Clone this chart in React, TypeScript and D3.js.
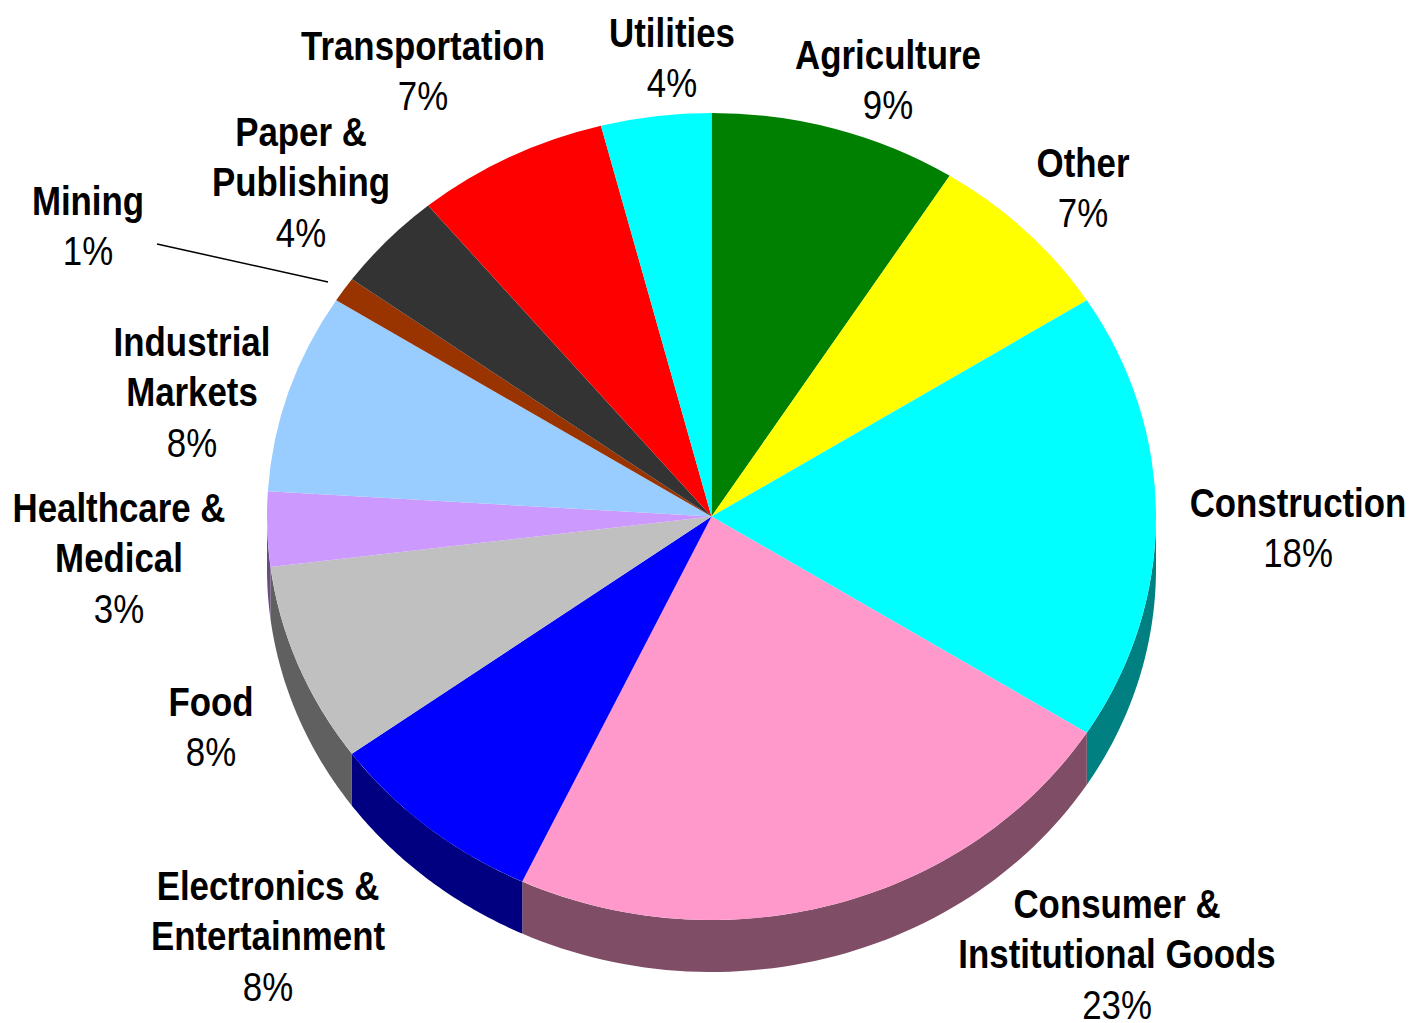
import React, { useRef, useEffect } from 'react'
import * as d3 from 'd3'

const categories = [
  'Agriculture', 'Other', 'Construction', 'Consumer & Institutional Goods',
  'Electronics & Entertainment', 'Food', 'Healthcare & Medical', 'Industrial Markets',
  'Mining', 'Paper & Publishing', 'Transportation', 'Utilities',
]
const values = [9, 7, 18, 23, 8, 8, 3, 8, 1, 4, 7, 4]
const colors = [
  '#008000', '#FFFF00', '#00FFFF', '#FF99CC', '#0000FF', '#C0C0C0',
  '#CC99FF', '#99CCFF', '#993300', '#333333', '#FF0000', '#00FFFF',
]
const labelLines = [
  ['Agriculture'], ['Other'], ['Construction'], ['Consumer &', 'Institutional Goods'],
  ['Electronics &', 'Entertainment'], ['Food'], ['Healthcare &', 'Medical'], ['Industrial', 'Markets'],
  ['Mining'], ['Paper &', 'Publishing'], ['Transportation'], ['Utilities'],
]

// label anchor: center x, first baseline
const labelPos: [number, number][] = [
  [888, 69], [1083, 177], [1298, 517], [1117, 918],
  [268, 900], [211, 716], [119, 522], [192, 356],
  [88, 215], [301, 146], [423, 60], [672, 47],
]

const W = 1410
const H = 1023

export default function App() {
  const svgRef = useRef<SVGSVGElement>(null)

  useEffect(() => {
    if (!svgRef.current) return
    const svg = d3.select(svgRef.current)
    svg.selectAll('*').remove()

    const cx = 711.5, cy = 516.5, rx = 444.5, ry = 403.5, depth = 52
    // no narrow font installed, so squeeze Liberation Sans horizontally
    const font = "'Liberation Sans Narrow', 'Liberation Sans', Arial, sans-serif"
    const fs = 41
    const lh = 50.5
    const squeeze = 0.85

    const data = categories.map((c, i) => ({ name: c, value: values[i], color: colors[i], i }))
    const arcs = d3.pie<any>().sort(null).value(d => d.value)(data)

    const pt = (a: number, dy = 0): [number, number] => [cx + rx * Math.sin(a), cy - ry * Math.cos(a) + dy]

    // sides (front half only)
    const sideG = svg.append('g')
    arcs.forEach(a => {
      const a0 = Math.max(a.startAngle, Math.PI / 2)
      const a1 = Math.min(a.endAngle, 3 * Math.PI / 2)
      if (a1 <= a0) return
      const steps = d3.range(0, 61).map(k => a0 + (a1 - a0) * k / 60)
      const pts = [...steps.map(t => pt(t)), ...steps.slice().reverse().map(t => pt(t, depth))]
      const c = d3.rgb(a.data.color)
      sideG.append('path')
        .attr('d', d3.line()(pts) + 'Z')
        .attr('fill', d3.rgb(c.r * 0.5, c.g * 0.5, c.b * 0.5).toString())
    })

    // top surface
    const arc = d3.arc<any>().innerRadius(0).outerRadius(rx)
    svg.append('g')
      .attr('transform', `translate(${cx},${cy}) scale(1,${ry / rx})`)
      .selectAll('path')
      .data(arcs)
      .join('path')
      .attr('d', arc)
      .attr('fill', d => d.data.color)

    // Mining leader line
    svg.append('line')
      .attr('x1', 157).attr('y1', 244).attr('x2', 328).attr('y2', 282)
      .attr('stroke', '#000').attr('stroke-width', 1.5)

    // labels
    const lg = svg.append('g').attr('font-family', font).attr('font-size', fs).attr('text-anchor', 'middle').attr('fill', '#000')
    arcs.forEach((a, i) => {
      const [x, y] = labelPos[i]
      const t = lg.append('text').attr('transform', `translate(${x},0) scale(${squeeze},1)`)
      labelLines[i].forEach((ln, k) => {
        t.append('tspan').attr('x', 0).attr('y', y + k * lh).attr('font-weight', 'bold').text(ln)
      })
      t.append('tspan').attr('x', 0).attr('y', y + labelLines[i].length * lh).text(`${a.data.value}%`)
    })
  }, [])

  return (
    <>
      <style>{'body{margin:0}'}</style>
      <svg ref={svgRef} width={W} height={H} style={{ display: 'block', background: '#fff' }} />
    </>
  )
}
